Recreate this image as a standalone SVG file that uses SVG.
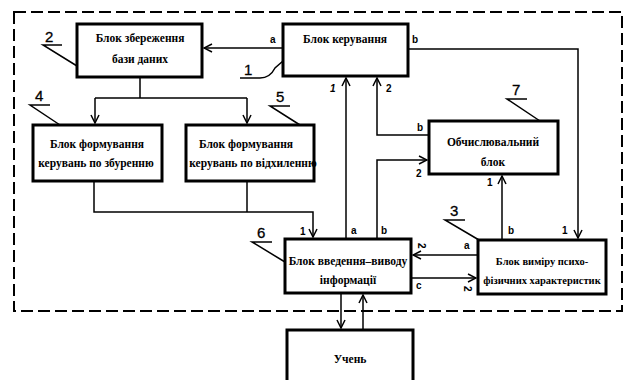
<svg xmlns="http://www.w3.org/2000/svg" width="629" height="380" viewBox="0 0 629 380">
<style>
.blk{fill:#fff;stroke:#000;stroke-width:3}
.t{font-family:"Liberation Serif",serif;font-weight:bold;font-size:11.5px;text-anchor:middle;fill:#000}
.ts{font-size:10.5px}
.ln{fill:none;stroke:#000;stroke-width:1.5}
.lb{font-family:"Liberation Sans",sans-serif;font-weight:bold;font-size:10px;fill:#000}
.cn{font-family:"Liberation Sans",sans-serif;font-size:15px;fill:#000;stroke:#000;stroke-width:0.3}
.ld{fill:none;stroke:#000;stroke-width:1.5}
</style>
<defs>
<marker id="ar" markerWidth="10" markerHeight="10" refX="9" refY="5" orient="auto" markerUnits="userSpaceOnUse">
<path d="M1,1 L9,5 L1,9" fill="none" stroke="#000" stroke-width="1.5"/>
</marker>
</defs>
<rect x="0" y="0" width="629" height="380" fill="#fff"/>
<rect id="boundary" x="14" y="12" width="608" height="299" fill="none" stroke="#000" stroke-width="2" stroke-dasharray="12,5"/>

<g id="connectors">
<path class="ln" d="M283,48 H204" marker-end="url(#ar)"/>
<path class="ln" d="M408,49 H578 V238" marker-end="url(#ar)"/>
<path class="ln" d="M140,77 V98 M95,98 H247"/>
<path class="ln" d="M95,98 V123" marker-end="url(#ar)"/>
<path class="ln" d="M247,98 V123" marker-end="url(#ar)"/>
<path class="ln" d="M247,181 V212"/>
<path class="ln" d="M94,181 V212 H313 V237" marker-end="url(#ar)"/>
<path class="ln" d="M346,239 V78" marker-end="url(#ar)"/>
<path class="ln" d="M429,135 H377 V78" marker-end="url(#ar)"/>
<path class="ln" d="M377,239 V160 H427" marker-end="url(#ar)"/>
<path class="ln" d="M502,240 V176" marker-end="url(#ar)"/>
<path class="ln" d="M478,255 H413" marker-end="url(#ar)"/>
<path class="ln" d="M411,278 H476" marker-end="url(#ar)"/>
<path class="ln" d="M341,293 V328" marker-end="url(#ar)"/>
<path class="ln" d="M363,330 V295" marker-end="url(#ar)"/>
</g>

<g id="n1">
<rect class="blk" x="283" y="24" width="125" height="52"/>
<text class="t" x="345" y="43">Блок керування</text>
<path class="ld" d="M240,78 H260 Q270,78 275,68 L283,61"/>
<text class="cn" x="244" y="75">1</text>
</g>
<g id="n2">
<rect class="blk" x="77" y="24" width="125" height="53"/>
<text class="t" x="140" y="42">Блок збереження</text>
<text class="t" x="140" y="63">бази даних</text>
<path class="ld" d="M62,45 H43 L77,66"/>
<text class="cn" x="45" y="42">2</text>
</g>
<g id="n3">
<rect class="blk" x="478" y="240" width="128" height="54"/>
<text class="t ts" x="542" y="265">Блок виміру психо-</text>
<text class="t ts" x="542" y="284">фізичних характеристик</text>
<path class="ld" d="M465,220 H445 L479,240"/>
<text class="cn" x="450" y="216">3</text>
</g>
<g id="n4">
<rect class="blk" x="33" y="125" width="129" height="56"/>
<text class="t" x="97" y="148">Блок формування</text>
<text class="t" x="96" y="167">керувань по збуренню</text>
<path class="ld" d="M50,105 H30 L60,125"/>
<text class="cn" x="35" y="101">4</text>
</g>
<g id="n5">
<rect class="blk" x="186" y="125" width="128" height="56"/>
<text class="t" x="246" y="148">Блок формування</text>
<text class="t" x="253" y="167">керувань по відхиленню</text>
<path class="ld" d="M290,106 H270 L300,125"/>
<text class="cn" x="276" y="102">5</text>
</g>
<g id="n6">
<rect class="blk" x="285" y="239" width="126" height="54"/>
<text class="t" x="348" y="265">Блок введення–виводу</text>
<text class="t" x="348" y="284">інформації</text>
<path class="ld" d="M272,242 H252 L285,262"/>
<text class="cn" x="257" y="238">6</text>
</g>
<g id="n7">
<rect class="blk" x="429" y="121" width="129" height="53"/>
<text class="t" x="493" y="146">Обчислювальний</text>
<text class="t" x="493" y="166">блок</text>
<path class="ld" d="M527,99 H507 L540,121"/>
<text class="cn" x="512" y="95">7</text>
</g>
<g id="n8">
<rect class="blk" x="287" y="330" width="126" height="60"/>
<text class="t" x="350" y="363">Учень</text>
</g>

<g id="port-labels">
<text class="lb" x="270" y="43">a</text>
<text class="lb" x="412" y="43">b</text>
<text class="lb" x="330" y="92" font-style="italic">1</text>
<text class="lb" x="386" y="92">2</text>
<text class="lb" x="417" y="131">b</text>
<text class="lb" x="416" y="177">2</text>
<text class="lb" x="487" y="186">1</text>
<text class="lb" x="300" y="235">1</text>
<text class="lb" x="351" y="234">a</text>
<text class="lb" x="381" y="234">b</text>
<text class="lb" x="508" y="234">b</text>
<text class="lb" x="562" y="234">1</text>
<text class="lb" x="464" y="249">a</text>
<text class="lb" transform="translate(418,243) rotate(90)">2</text>
<text class="lb" x="416" y="289">c</text>
<text class="lb" transform="translate(464,286) rotate(90)">2</text>
</g>
</svg>
